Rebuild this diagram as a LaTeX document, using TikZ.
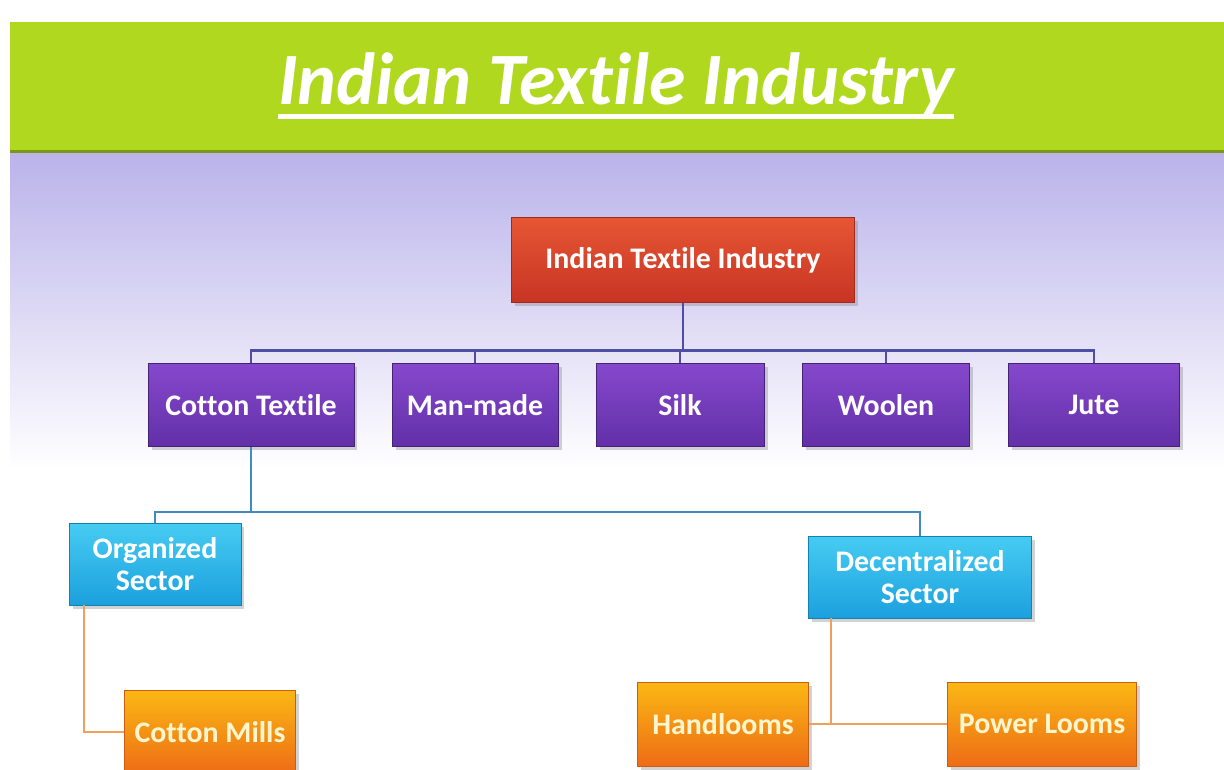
\documentclass[tikz,border=0pt]{standalone}
\usepackage{fontspec}
\setmainfont{Carlito}[Ligatures=NoCommon]
\usepackage{tikz}
\usetikzlibrary{shadows}

\definecolor{lime}{RGB}{176,216,30}
\definecolor{lavender}{RGB}{186,178,234}
\definecolor{redtop}{RGB}{230,86,52}
\definecolor{redbot}{RGB}{200,52,36}
\definecolor{purptop}{RGB}{134,72,204}
\definecolor{purpbot}{RGB}{98,48,168}
\definecolor{cyantop}{RGB}{70,204,242}
\definecolor{cyanbot}{RGB}{28,160,222}
\definecolor{orangetop}{RGB}{250,184,20}
\definecolor{orangebot}{RGB}{238,108,22}
\definecolor{topline}{RGB}{78,78,165}
\definecolor{midline}{RGB}{62,140,192}
\definecolor{lowline}{RGB}{240,160,92}

\tikzset{
  box/.style={rectangle, text=white, align=center,
    font=\bfseries\fontsize{17}{18.5}\selectfont,
    drop shadow={opacity=0.35, shadow xshift=2pt, shadow yshift=-2pt}},
  rootbox/.style={box, draw=redbot!80!black, top color=redtop, bottom color=redbot,
    minimum width=6.86cm, minimum height=1.70cm},
  kindbox/.style={box, draw=purpbot!70!black, top color=purptop, bottom color=purpbot,
    minimum height=1.66cm},
  sectorbox/.style={box, draw=cyanbot!80!black, top color=cyantop, bottom color=cyanbot,
    minimum height=1.64cm},
  unitbox/.style={box, draw=orangebot!85!black, top color=orangetop, bottom color=orangebot,
    text={rgb,255:red,255;green,246;blue,205}, minimum height=1.68cm},
}

\begin{document}
\begin{tikzpicture}[x=0.02cm,y=-0.02cm]
    \useasboundingbox (0,0) rectangle (1224,769);

    % Background
    \fill[white] (0,0) rectangle (1224,769);
    \shade[top color=lavender, bottom color=white] (10,150) rectangle (1224,470);
    \fill[lime] (10,22) rectangle (1224,152);
    \fill[black!30!lime] (10,150) rectangle (1224,152.5);

    % Title
    \node[inner xsep=0pt, text=white, font=\bfseries\itshape\fontsize{42}{46}\selectfont]
        (title) at (616,84) {Indian Textile Industry};
    \draw[white, line width=2.4pt]
        ([yshift=-7pt]title.base west) -- ([yshift=-7pt]title.base east);

    % Nodes
    \node[rootbox] (root) at (683,260) {Indian Textile Industry};

    \node[kindbox, minimum width=4.12cm] (cotton) at (251,405) {Cotton Textile};
    \node[kindbox, minimum width=3.32cm] (manmade) at (475,405) {Man-made};
    \node[kindbox, minimum width=3.36cm] (silk) at (680,405) {Silk};
    \node[kindbox, minimum width=3.34cm] (woolen) at (886,405) {Woolen};
    \node[kindbox, minimum width=3.42cm] (jute) at (1094,405) {Jute};

    \node[sectorbox, minimum width=3.44cm] (organized) at (155,564) {Organized\\Sector};
    \node[sectorbox, minimum width=4.46cm] (decentral) at (920,577) {Decentralized\\Sector};

    \node[unitbox, minimum width=3.42cm] (mills) at (210,732) {Cotton Mills};
    \node[unitbox, minimum width=3.42cm] (handlooms) at (723,724) {Handlooms};
    \node[unitbox, minimum width=3.78cm] (powerlooms) at (1042,724) {Power Looms};

    % Edges
    \draw[topline, line width=1.6pt] (root.south) -- ++(0,48) coordinate (kindbus);
    \foreach \n in {cotton,manmade,silk,woolen,jute}
        \draw[topline, line width=1.6pt] (kindbus) -| (\n.north);

    \draw[midline, line width=1.3pt] (cotton.south) -- ++(0,65) coordinate (sectorbus);
    \foreach \n in {organized,decentral}
        \draw[midline, line width=1.3pt] (sectorbus) -| (\n.north);

    \path[draw, lowline, line width=1.3pt]
        ([xshift=0.3cm]organized.south west) |- (mills.west)
        ([xshift=0.46cm]decentral.south west) |- (handlooms.east)
        ([xshift=0.46cm]decentral.south west) |- (powerlooms.west);
\end{tikzpicture}
\end{document}
